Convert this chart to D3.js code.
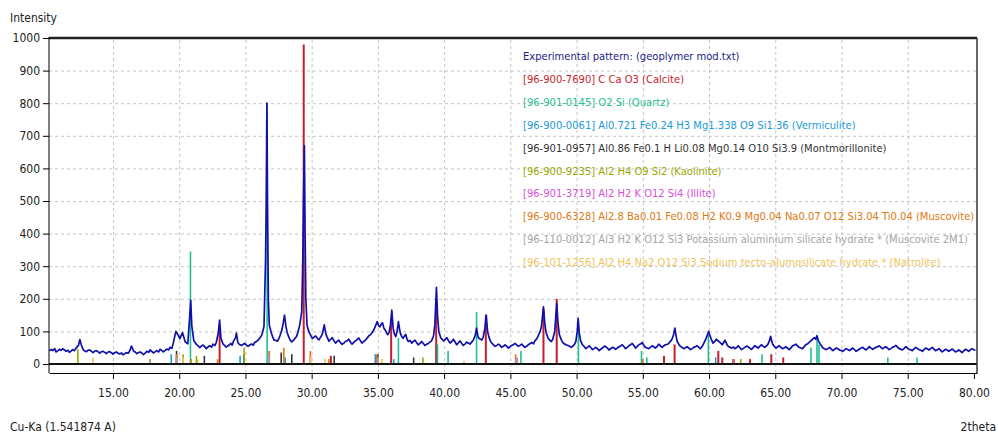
<html>
  <body style="margin:0;background:#fff">
    <style>
      text { font-family: "DejaVu Sans Condensed", "Liberation Sans Narrow", sans-serif; }
      .grid line { stroke: #c4c4c4; stroke-dasharray: 3,3; }
      .grid path { stroke-width: 0; }
      .axis path, .axis line { stroke: #000; }
      .axis text { font-size: 12px; fill: #222; }
    </style>
    <svg id="chart" width="998" height="434"></svg>
    <script src="https://cdn.jsdelivr.net/npm/d3@7"></script>
    <script>
      // experimental pattern, [2theta, intensity]
      var experimental = [
        [10.2,40],[10.35,45],[10.45,41],[10.6,47],[10.7,37],[10.85,41],[10.95,45],[11.1,42],[11.2,47],[11.35,43],[11.45,39],
        [11.6,42],[11.7,36],[11.85,40],[11.95,44],[12.1,41],[12.2,48],
        [12.4,58],[12.5,75],[12.6,60],[12.75,44],[12.85,40],[13.0,38],[13.1,42],[13.25,43],[13.4,38],[13.5,35],[13.6,39],[13.75,41],[13.9,37],[14.0,33],
        [14.1,37],[14.25,39],[14.4,35],[14.5,32],[14.6,36],[14.75,38],[14.9,34],[15.0,30],[15.1,34],[15.25,37],[15.4,33],[15.5,31],[15.65,34],[15.75,28],[15.9,32],[16.0,35],[16.15,33],[16.25,39],
        [16.4,55],[16.55,40],[16.7,36],[16.8,32],[16.95,35],[17.05,37],[17.2,33],[17.3,29],[17.45,34],[17.55,39],[17.7,36],[17.8,43],[17.95,38],[18.05,34],[18.2,38],[18.3,41],
        [18.45,37],[18.55,45],[18.7,41],[18.8,37],[18.95,42],[19.05,46],[19.2,43],[19.3,51],[19.45,48],[19.55,64],[19.75,100],[19.9,90],[20.05,78],[20.25,96],
        [20.45,68],[20.65,62],[20.8,150],[20.87,195],[20.95,118],[21.1,72],[21.2,66],[21.3,60],[21.45,55],[21.55,50],[21.7,56],[21.8,58],[21.95,52],
        [22.05,47],[22.2,53],[22.3,56],[22.45,52],[22.55,61],[22.7,57],[22.8,66],[22.95,95],[23.05,135],[23.15,80],[23.3,62],[23.4,58],[23.55,52],[23.65,55],
        [23.8,59],[23.9,63],[24.0,58],[24.1,70],[24.25,80],[24.32,95],[24.42,66],[24.55,60],[24.7,57],[24.85,61],[24.95,63],[25.1,57],[25.2,54],[25.35,59],[25.45,61],[25.6,58],[25.7,66],
        [25.85,70],[25.95,73],[26.1,80],[26.25,90],[26.4,115],[26.52,320],[26.57,500],[26.62,800],[26.67,480],[26.73,200],[26.8,120],
        [26.95,96],[27.05,84],[27.15,74],[27.3,72],[27.4,70],[27.5,76],[27.6,86],[27.75,104],[27.85,125],[27.95,150],[28.05,118],[28.15,96],[28.3,80],[28.4,72],[28.5,68],
        [28.65,74],[28.75,79],[28.85,84],[28.95,96],[29.1,120],[29.25,160],[29.33,320],[29.38,500],[29.45,670],[29.5,420],[29.56,200],[29.65,120],[29.75,104],
        [29.85,94],[29.95,86],[30.05,78],[30.2,83],[30.3,86],[30.45,78],[30.55,74],[30.7,84],[30.8,91],[30.95,120],[31.05,96],[31.15,84],[31.3,70],[31.45,76],[31.55,81],
        [31.7,70],[31.8,64],[31.95,70],[32.05,73],[32.2,64],[32.3,60],[32.45,65],[32.55,69],[32.7,72],[32.8,76],[32.95,66],[33.05,61],[33.2,67],[33.3,71],[33.45,75],[33.55,80],[33.7,70],[33.8,64],
        [33.95,70],[34.05,73],[34.2,80],[34.3,86],[34.45,90],[34.55,96],[34.65,102],[34.75,110],[34.85,120],[34.95,130],[35.05,118],[35.15,114],[35.25,122],[35.35,126],[35.45,110],[35.55,104],
        [35.65,96],[35.75,90],[35.85,98],[35.95,120],[36.05,165],[36.15,110],[36.25,92],[36.35,84],[36.45,100],[36.55,130],[36.65,104],[36.7,94],[36.8,84],[36.9,79],
        [37.0,85],[37.1,91],[37.2,76],[37.3,69],[37.45,72],[37.55,64],[37.7,70],[37.8,73],[37.95,64],[38.05,59],[38.2,64],[38.3,69],[38.45,62],[38.55,57],[38.7,61],[38.8,63],[38.95,68],[39.05,71],
        [39.2,86],[39.3,120],[39.42,235],[39.5,150],[39.6,100],[39.75,80],[39.85,76],[39.95,71],[40.1,76],[40.2,81],[40.35,70],[40.45,64],[40.6,70],[40.7,76],
        [40.85,66],[40.95,59],[41.1,66],[41.2,71],[41.35,62],[41.45,57],[41.6,62],[41.7,67],[41.85,64],[41.95,61],[42.1,68],[42.2,73],[42.35,88],[42.45,110],[42.55,86],[42.6,80],[42.75,76],[42.85,74],
        [42.95,82],[43.08,110],[43.18,150],[43.28,100],[43.4,80],[43.5,70],[43.6,64],[43.75,58],[43.85,54],[44.0,58],[44.1,61],[44.25,56],[44.35,51],[44.5,55],[44.6,59],[44.75,53],[44.85,49],
        [45.0,54],[45.1,57],[45.25,60],[45.35,63],[45.5,58],[45.6,54],[45.75,58],[45.85,61],[46.0,55],[46.1,51],[46.25,55],[46.35,59],[46.5,63],[46.6,66],[46.75,62],[46.85,71],[47.0,78],[47.1,86],
        [47.25,100],[47.35,115],[47.5,175],[47.6,125],[47.7,96],[47.85,79],[47.95,74],[48.1,69],[48.2,76],[48.35,100],[48.5,185],[48.6,125],[48.7,90],
        [48.85,74],[48.95,66],[49.1,61],[49.25,58],[49.35,57],[49.5,54],[49.6,51],[49.75,56],[49.85,61],[49.95,70],[50.05,100],[50.12,140],[50.2,96],[50.3,72],[50.45,59],
        [50.6,52],[50.7,47],[50.85,52],[50.95,56],[51.1,49],[51.2,44],[51.35,48],[51.45,51],[51.6,46],[51.7,41],[51.85,46],[51.95,49],[52.1,55],[52.2,53],[52.35,48],[52.45,43],[52.6,48],[52.7,51],
        [52.85,49],[52.95,45],[53.1,50],[53.2,53],[53.35,56],[53.45,59],[53.6,52],[53.7,47],[53.85,52],[53.95,56],[54.1,60],[54.2,63],[54.35,55],[54.45,49],[54.6,55],[54.7,59],[54.85,62],[54.95,66],
        [55.1,56],[55.2,51],[55.35,49],[55.45,47],[55.6,52],[55.7,56],[55.85,52],[55.95,49],[56.1,55],[56.2,61],[56.35,55],[56.45,51],[56.6,56],[56.7,59],[56.85,60],[56.95,63],[57.1,70],[57.2,76],
        [57.32,90],[57.42,110],[57.52,84],[57.6,69],[57.75,58],[57.85,54],[58.0,50],[58.1,47],[58.25,51],[58.35,53],[58.5,48],[58.6,44],[58.75,48],[58.85,51],[59.0,54],[59.1,56],[59.25,50],[59.35,47],
        [59.5,55],[59.6,63],[59.7,72],[59.8,81],[59.9,92],[59.97,100],[60.05,90],[60.15,78],[60.3,64],[60.45,70],[60.55,76],[60.65,72],[60.75,69],[60.9,63],[61.0,59],[61.1,66],[61.2,73],
        [61.35,60],[61.45,54],[61.6,51],[61.7,49],[61.85,52],[61.95,47],[62.1,51],[62.2,56],[62.35,49],[62.45,44],[62.6,48],[62.7,51],[62.85,55],[62.95,53],[63.1,48],[63.2,45],[63.35,51],[63.45,56],
        [63.6,52],[63.7,49],[63.85,55],[63.95,59],[64.1,54],[64.2,51],[64.35,56],[64.45,61],[64.55,70],[64.65,85],[64.75,68],[64.8,61],[64.95,53],[65.05,49],[65.2,53],[65.3,56],[65.45,50],[65.55,47],
        [65.7,50],[65.8,53],[65.95,48],[66.05,44],[66.2,50],[66.3,56],[66.45,58],[66.55,61],[66.7,55],[66.8,51],[66.95,49],[67.05,47],[67.2,54],[67.3,59],[67.45,62],[67.55,66],[67.65,70],[67.75,73],
        [67.85,78],[67.95,81],[68.05,76],[68.15,86],[68.25,72],[68.35,64],[68.5,55],[68.6,49],[68.75,46],[68.85,44],[69.0,48],[69.1,51],[69.25,45],[69.35,41],[69.5,46],[69.6,49],[69.75,46],[69.85,43],
        [70.0,41],[70.1,39],[70.25,44],[70.35,47],[70.5,44],[70.6,41],[70.75,46],[70.85,49],[71.0,43],[71.1,39],[71.25,43],[71.35,46],[71.5,49],[71.6,51],[71.75,46],[71.85,43],[72.0,49],[72.1,53],
        [72.25,48],[72.35,45],[72.5,49],[72.6,51],[72.75,54],[72.85,56],[73.0,50],[73.1,47],[73.25,51],[73.35,53],[73.5,48],[73.6,44],[73.75,48],[73.85,51],[74.0,54],[74.1,57],[74.25,51],[74.35,47],
        [74.5,45],[74.6,43],[74.75,49],[74.85,53],[75.0,48],[75.1,45],[75.25,43],[75.35,41],[75.5,47],[75.6,51],[75.75,47],[75.85,44],[76.0,42],[76.1,39],[76.25,45],[76.35,49],[76.5,46],[76.6,43],
        [76.75,48],[76.85,51],[77.0,45],[77.1,41],[77.25,44],[77.35,47],[77.5,41],[77.6,37],[77.75,42],[77.85,45],[78.0,42],[78.1,39],[78.25,43],[78.35,46],[78.5,41],[78.6,37],[78.75,40],[78.85,43],
        [79.0,39],[79.1,35],[79.25,41],[79.35,45],[79.5,42],[79.6,39],[79.75,44],[79.85,47],[80.0,44],[80.1,41]
      ];

      // reference sticks per phase, [2theta, intensity]
      var calcite = [[23.05,120],[29.4,980],[31.45,25],[36.0,140],[39.4,200],[43.15,150],[47.5,170],
        [48.5,200],[56.6,25],[57.4,60],[60.7,40],[61.0,20],[63.1,15],[64.7,30],[65.6,20]];
      var quartz = [[20.85,345],[26.64,800],[36.55,80],[39.5,60],[40.3,40],[42.45,160],[45.8,40],
        [50.14,120],[54.9,40],[55.3,20],[59.95,90],[64.0,30],[67.7,50],[68.15,90],[68.3,60],[73.5,20],[75.7,20]];
      var vermiculite = [[19.4,30],[24.6,25],[28.0,20],[34.8,30],[36.2,15],[60.5,20]];
      var montmorillonite = [[19.8,40],[21.9,25],[24.9,30],[27.7,35],[28.5,30],[31.7,25],[35.0,30],[37.7,20],[61.8,15]];
      var kaolinite = [[12.35,45],[20.3,30],[21.3,25],[24.9,50],[35.0,20],[38.4,20],[62.4,15]];
      var illite = [[19.8,20],[26.8,40],[29.9,20],[35.0,20],[45.5,20],[61.9,15]];
      var muscovite = [[17.8,15],[19.8,30],[20.9,15],[22.9,15],[26.8,40],[27.9,50],[29.9,40],[31.3,15],
        [34.9,30],[45.4,30],[55.0,15],[61.8,15]];
      var muscovite2M1 = [[17.8,10],[19.8,20],[26.8,30],[35.0,20],[45.4,15]];
      var natrolite = [[13.5,20],[20.3,20],[21.4,15],[29.9,20],[31.0,15],[35.3,15],[41.5,10]];

      var legendLabels = [
        "Experimental pattern: (geoplymer mod.txt)",
        "[96-900-7690] C Ca O3  (Calcite)",
        "[96-901-0145] O2 Si  (Quartz)",
        "[96-900-0061] Al0.721 Fe0.24 H3 Mg1.338 O9 Si1.36  (Vermiculite)",
        "[96-901-0957] Al0.86 Fe0.1 H Li0.08 Mg0.14 O10 Si3.9  (Montmorillonite)",
        "[96-900-9235] Al2 H4 O9 Si2  (Kaolinite)",
        "[96-901-3719] Al2 H2 K O12 Si4  (Illite)",
        "[96-900-6328] Al2.8 Ba0.01 Fe0.08 H2 K0.9 Mg0.04 Na0.07 O12 Si3.04 Ti0.04  (Muscovite)",
        "[96-110-0012] Al3 H2 K O12 Si3 Potassium aluminium silicate hydrate * (Muscovite 2M1)",
        "[96-101-1256] Al2 H4 Na2 O12 Si3 Sodium tecto-alumosilicate hydrate * (Natrolite)"
      ];
      var legendColors = ["#1c1c88","#c41e2a","#1fbf95","#1a9ad6","#333333","#98a800",
        "#d850d8","#e07810","#a4a4a4","#f0c458"];
      var phases = [calcite, quartz, vermiculite, montmorillonite, kaolinite, illite,
        muscovite, muscovite2M1, natrolite];

      var xTicks = [15,20,25,30,35,40,45,50,55,60,65,70,75,80];
      var yTicks = [0,100,200,300,400,500,600,700,800,900,1000];

      function draw() {
        var svg = d3.select("#chart");
        var pl = 49, pr = 977, pt = 38, zeroY = 364, pb = 373;

        var x = d3.scaleLinear().domain([10.17, 80.23]).range([pl, pr]);
        var y = d3.scaleLinear().domain([0, 1000]).range([zeroY, pt]);

        // gridlines
        svg.append("g").attr("class", "grid")
          .attr("transform", "translate(0," + pb + ")")
          .call(d3.axisBottom(x).tickValues(xTicks.slice(0, -1)).tickSize(-(pb - pt)).tickFormat(""));
        svg.append("g").attr("class", "grid")
          .attr("transform", "translate(" + pl + ",0)")
          .call(d3.axisLeft(y).tickValues(yTicks.slice(1, -1)).tickSize(-(pr - pl)).tickFormat(""));

        // legend text
        svg.append("g").selectAll("text").data(legendLabels).enter().append("text")
          .attr("x", 523)
          .attr("y", function(d, i) { return 60 + i * 22.9; })
          .attr("fill", function(d, i) { return legendColors[i]; })
          .style("font-size", "11.1px")
          .text(function(d) { return d; });

        // reference sticks
        phases.forEach(function(p, i) {
          svg.append("g").selectAll("line").data(p).enter().append("line")
            .attr("x1", function(d) { return x(d[0]); })
            .attr("x2", function(d) { return x(d[0]); })
            .attr("y1", y(0))
            .attr("y2", function(d) { return y(d[1]); })
            .attr("stroke", legendColors[i + 1])
            .attr("stroke-width", i == 0 ? 2 : 1.6);
        });

        // experimental line
        svg.append("path")
          .datum(experimental)
          .attr("fill", "none")
          .attr("stroke", "#1010ac")
          .attr("stroke-width", 1.7)
          .attr("stroke-linejoin", "round")
          .attr("d", d3.line().x(function(d) { return x(d[0]); }).y(function(d) { return y(d[1]); }));

        // zero line and frame
        svg.append("line").attr("x1", pl).attr("x2", pr).attr("y1", zeroY).attr("y2", zeroY)
          .attr("stroke", "#111").attr("stroke-width", 2.2);
        svg.append("line").attr("x1", pl).attr("x2", pr).attr("y1", pt).attr("y2", pt)
          .attr("stroke", "#222").attr("stroke-width", 2.5);
        svg.append("line").attr("x1", pr).attr("x2", pr).attr("y1", pt).attr("y2", pb)
          .attr("stroke", "#333").attr("stroke-width", 1.5);

        // axes
        svg.append("g").attr("class", "axis")
          .attr("transform", "translate(0," + pb + ")")
          .call(d3.axisBottom(x).tickValues(xTicks).tickSize(6).tickSizeOuter(0)
            .tickFormat(function(d) { return d.toFixed(2); }))
          .call(function(g) { g.selectAll("text").attr("dy", "1.25em"); });
        svg.append("g").attr("class", "axis")
          .attr("transform", "translate(" + pl + ",0)")
          .call(d3.axisLeft(y).tickValues(yTicks).tickSize(6).tickSizeOuter(0).tickFormat(d3.format("d")))
          .call(function(g) { g.select(".domain").attr("d", "M0," + (pt - 1) + "V" + pb); });

        svg.append("text").attr("x", 10).attr("y", 22).style("font-size", "12px").attr("fill", "#222").text("Intensity");
        svg.append("text").attr("x", 10).attr("y", 431).style("font-size", "12px").attr("fill", "#222").text("Cu-Ka (1.541874 A)");
        svg.append("text").attr("x", 996).attr("y", 431).attr("text-anchor", "end").style("font-size", "12px").attr("fill", "#222").text("2theta");
      }
      draw();
    </script>
  </body>
</html>
